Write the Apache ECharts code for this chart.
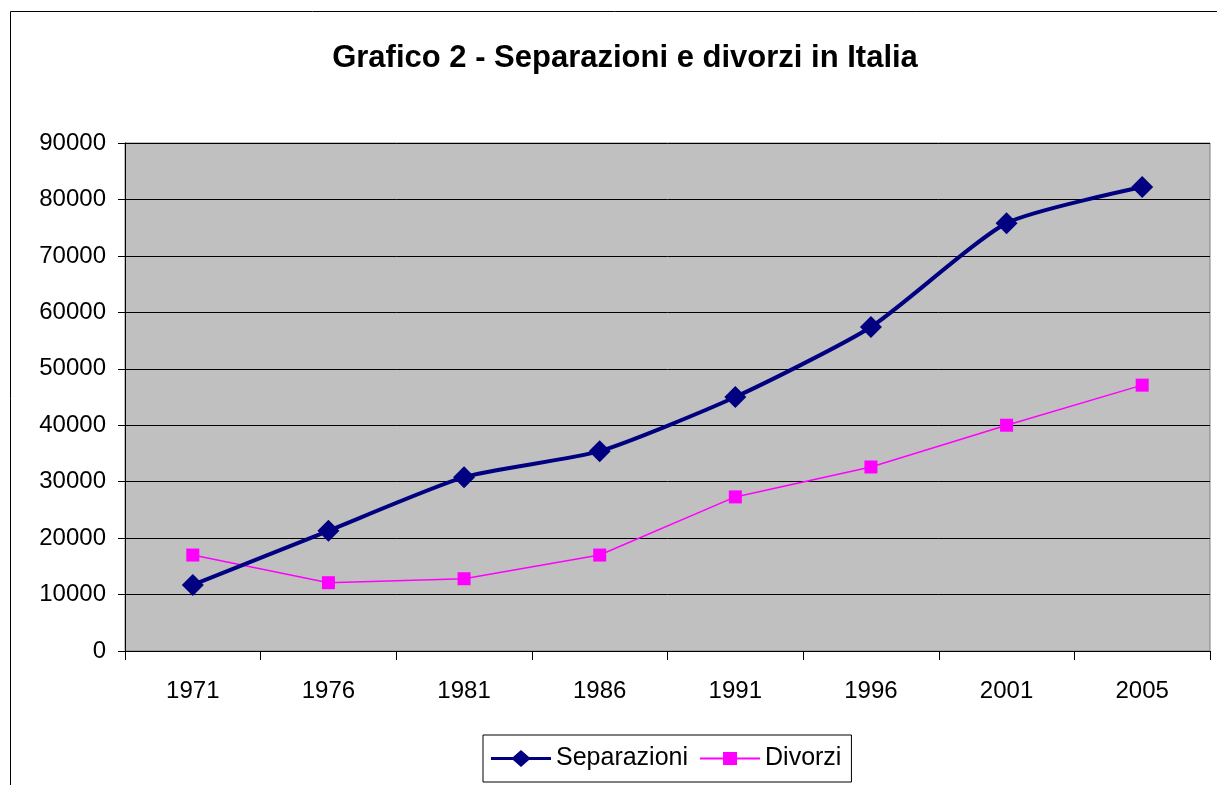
<!DOCTYPE html>
<html>
<head>
<meta charset="utf-8">
<script src="https://cdn.jsdelivr.net/npm/echarts@6/dist/echarts.min.js"></script>
<style>
  html, body { margin: 0; padding: 0; background: #fff; }
  #chart { width: 1217px; height: 785px; }
</style>
</head>
<body>
<div id="chart"></div>
<script>
const years = ['1971', '1976', '1981', '1986', '1991', '1996', '2001', '2005'];
const separazioni = [11700, 21300, 30800, 35400, 45000, 57400, 75800, 82200];
const divorzi = [17000, 12100, 12800, 17000, 27300, 32600, 40000, 47100];

const chart = echarts.init(document.getElementById('chart'));
chart.setOption({
    animation: false,
    backgroundColor: '#fff',
    graphic: [{
        type: 'rect',
        shape: { x: 10.5, y: 11.5, width: 1220, height: 800 },
        style: { fill: 'none', stroke: '#000', lineWidth: 1 },
        silent: true
    }],
    title: {
        text: 'Grafico 2 - Separazioni e divorzi in Italia',
        left: 620,
        textAlign: 'center',
        top: 38,
        textStyle: {
            fontFamily: 'Liberation Sans, Arial',
            fontSize: 31,
            fontWeight: 'bold',
            color: '#000'
        }
    },
    legend: {
        left: 483,
        top: 735,
        padding: [11, 10, 11, 8],
        borderColor: '#000',
        borderWidth: 1,
        itemGap: 12,
        itemWidth: 60,
        itemHeight: 17,
        textStyle: { fontFamily: 'Liberation Sans, Arial', fontSize: 25, color: '#000' },
        data: [
            { name: 'Separazioni', icon: 'path://M0,7 L22,7 L30,0 L38,7 L60,7 L60,10 L38,10 L30,17 L22,10 L0,10 Z' },
            { name: 'Divorzi', icon: 'path://M0,7.5 L23,7.5 L23,2 L37,2 L37,7.5 L60,7.5 L60,9.5 L37,9.5 L37,15 L23,15 L23,9.5 L0,9.5 Z' }
        ]
    },
    grid: {
        left: 125,
        top: 143,
        right: 7,
        bottom: 134,
        show: true,
        backgroundColor: '#c0c0c0',
        borderColor: '#808080',
        borderWidth: 1
    },
    xAxis: {
        type: 'category',
        data: years,
        boundaryGap: true,
        axisLine: { lineStyle: { color: '#000', width: 1 } },
        axisTick: { show: true, inside: false, length: 9, alignWithLabel: false, lineStyle: { color: '#000' } },
        axisLabel: { margin: 28, fontFamily: 'Liberation Sans, Arial', fontSize: 24, color: '#000' },
        splitLine: { show: false }
    },
    yAxis: {
        type: 'value',
        min: 0,
        max: 90000,
        interval: 10000,
        axisLine: { show: true, lineStyle: { color: '#000', width: 1 } },
        axisTick: { show: true, inside: false, length: 7, lineStyle: { color: '#000' } },
        axisLabel: {
            margin: 19,
            fontFamily: 'Liberation Sans, Arial',
            fontSize: 24,
            color: '#000',
            formatter: function (v) { return String(v); }
        },
        splitLine: { show: true, lineStyle: { color: '#000', width: 1 } }
    },
    series: [{
        name: 'Separazioni',
        type: 'line',
        data: separazioni,
        smooth: 0.2,
        symbol: 'diamond',
        symbolSize: [22, 22],
        lineStyle: { color: '#000080', width: 4 },
        itemStyle: { color: '#000080' },
        z: 3
    }, {
        name: 'Divorzi',
        type: 'line',
        data: divorzi,
        symbol: 'rect',
        symbolSize: 13,
        lineStyle: { color: '#ff00ff', width: 1.5 },
        itemStyle: { color: '#ff00ff' },
        z: 2
    }]
});
</script>
</body>
</html>
